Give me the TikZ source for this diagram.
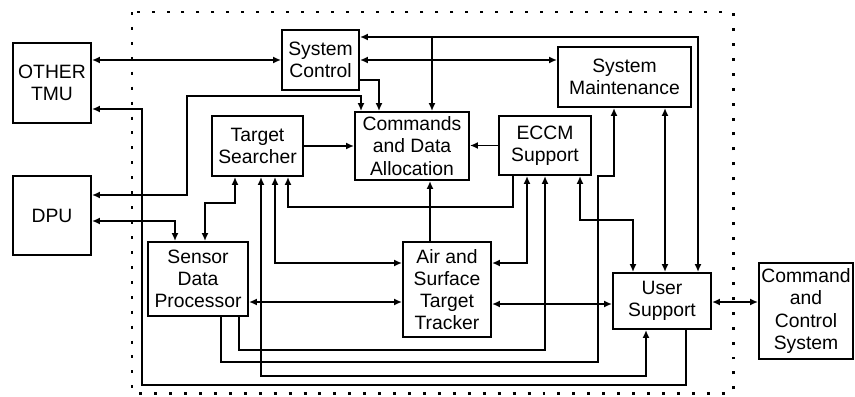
\documentclass[tikz,border=0pt]{standalone}
\usepackage{fontspec}
\setmainfont{Liberation Sans}
\usetikzlibrary{arrows.meta,calc}
\tikzset{
  wire/.style      = {line width=1.1pt},
  onearrow/.style  = {wire, -{Latex[length=1.6mm,width=1.4mm]}},
  twoarrow/.style  = {wire, {Latex[length=1.6mm,width=1.4mm]}-{Latex[length=1.6mm,width=1.4mm]}},
  block/.style     = {draw, line width=1.1pt, inner sep=0pt, align=center,
                      font=\fontsize{11}{12.6}\selectfont},
  blocksize/.style 2 args = {minimum width=#1*0.02cm, minimum height=#2*0.02cm},
  boundary/.style  = {line width=1.7pt, dash pattern=on 1.7pt off 6.8pt},
}

\begin{document}
\begin{tikzpicture}[x=0.02cm, y=-0.02cm]
  \useasboundingbox (0,0) rectangle (855,396);
  \draw[boundary] (132,12) rectangle (733,393);

  % blocks
  \node[block, blocksize={78}{80}]  (tmu)    at (52,83)     {OTHER\\TMU};
  \node[block, blocksize={78}{79}]  (dpu)    at (52,215.5)  {DPU};
  \node[block, blocksize={77}{60}]  (sysctl) at (320.5,60)  {System\\Control};
  \node[block, blocksize={114}{68}] (cmd)    at (412,146)   {Commands\\and Data\\Allocation};
  \node[block, blocksize={91}{60}]  (search) at (257.5,146) {Target\\Searcher};
  \node[block, blocksize={92}{59}]  (eccm)   at (545,145.5) {ECCM\\Support};
  \node[block, blocksize={133}{60}] (maint)  at (624.5,77)  {System\\Maintenance};
  \node[block, blocksize={100}{74}] (sensor) at (198,279)   {Sensor\\Data\\Processor};
  \node[block, blocksize={88}{95}]  (track)  at (447,289.5) {Air and\\Surface\\Target\\Tracker};
  \node[block, blocksize={98}{56}]  (user)   at (662,301)   {User\\Support};
  \node[block, blocksize={94}{96}]  (cc)     at (806,311)   {Command\\and\\Control\\System};

  % links along the top
  \draw[twoarrow] (tmu.east |- sysctl.west) -- (sysctl.west);
  \draw[twoarrow] (sysctl.east |- 0,37) -- (698,37) -- (user.north -| 698,0);
  \draw[onearrow] (432,37) -- (cmd.north -| 432,0);
  \draw[twoarrow] (sysctl.east) -- (maint.west |- sysctl.east);
  \draw[onearrow] (sysctl.east |- 0,80) -- (379,80) -- (cmd.north -| 379,0);
  \draw[twoarrow] (cmd.north -| 361,0) -- (361,96) -- (187,96) -- (187,195) -- (dpu.east |- 0,195);
  \draw[onearrow] (user.south -| 686,0) -- (686,385) -- (142,385) -- (142,109) -- (tmu.east |- 0,109);
  \draw[twoarrow] (dpu.east |- 0,221) -- (175,221) -- (sensor.north -| 175,0);

  % into the allocation block
  \draw[onearrow] (search.east) -- (cmd.west |- search.east);
  \draw[onearrow] (eccm.west) -- (cmd.east |- eccm.west);
  \draw[onearrow] (track.north -| 430,0) -- (cmd.south -| 430,0);

  % below searcher and ECCM
  \draw[twoarrow] (search.south -| 235,0) -- (235,203) -- (205,203) -- (sensor.north -| 205,0);
  \draw[onearrow] (eccm.south -| 513,0) -- (513,207) -- (288,207) -- (search.south -| 288,0);
  \draw[twoarrow] (search.south -| 275,0) -- (275,263) -- (track.west |- 0,263);
  \draw[twoarrow] (search.south -| 261,0) -- (261,376) -- (646,376) -- (user.south -| 646,0);
  \draw[twoarrow] (eccm.south -| 527,0) -- (527,263) -- (track.east |- 0,263);
  \draw[twoarrow] (eccm.south -| 580,0) -- (580,220) -- (633,220) -- (user.north -| 633,0);
  \draw[twoarrow] (maint.south -| 665,0) -- (user.north -| 665,0);

  % from the sensor processor
  \draw[onearrow] (sensor.south -| 239,0) -- (239,350) -- (545,350) -- (eccm.south -| 545,0);
  \draw[onearrow] (sensor.south -| 221,0) -- (221,362) -- (598,362) -- (598,176) -- (614,176) -- (maint.south -| 614,0);

  % horizontal chain
  \draw[twoarrow] (sensor.east |- 0,302) -- (track.west |- 0,302);
  \draw[twoarrow] (track.east |- 0,304) -- (user.west |- 0,304);
  \draw[twoarrow] (user.east |- 0,302) -- (cc.west |- 0,302);
\end{tikzpicture}
\end{document}
